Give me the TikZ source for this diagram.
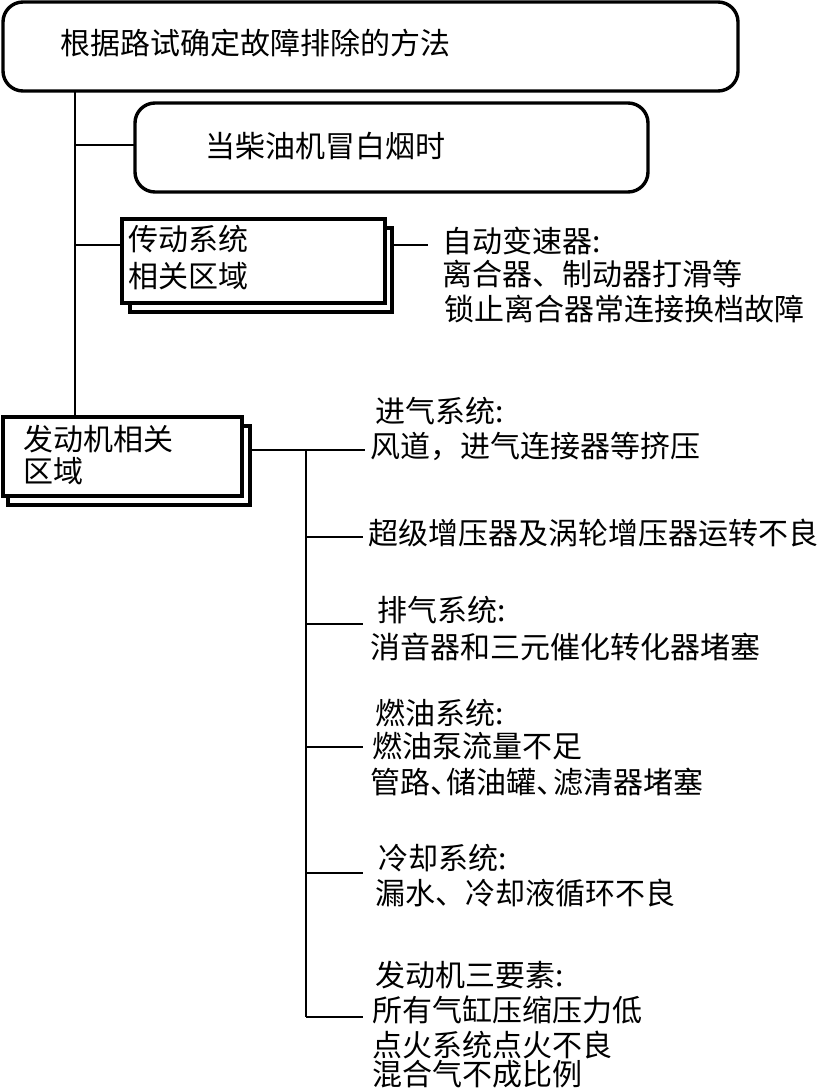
\documentclass[tikz,border=0pt]{standalone}
\usepackage{fontspec}
\newfontfamily\song{Noto Sans CJK SC}
\newcommand{\dunhao}{、\kern-0.45em}
\begin{document}
\begin{tikzpicture}[x=1pt,y=-1pt,
  lbl/.style={anchor=west, inner sep=0pt, font=\song\fontsize{30}{30}\selectfont, text height=1.6em, text depth=0.1em},
  rbox/.style={draw, line width=3.4pt, rounded corners=20pt},
  sbox/.style={draw, line width=3.4pt, fill=white},
  conn/.style={line width=2pt}]
\useasboundingbox (0,0) rectangle (819,1092);
% top boxes
\draw[rbox] (3,2) rectangle (738,91);
\coordinate (topS) at (75,91);
\node[lbl] (toptext) at (60,47) {根据路试确定故障排除的方法};
\draw[rbox] (135,103) rectangle (648,192);
\coordinate (secW) at (135,145);
\node[lbl] (sectext) at (205,150) {当柴油机冒白烟时};
% transmission box
\draw[sbox] (130,228) rectangle (392,312);
\draw[sbox] (122,219) rectangle (385,303);
\coordinate (transW) at (122,245);
\coordinate (transE) at (392,245);
\node[lbl] (trans1) at (128,243) {传动系统};
\node[lbl] (trans2) at (128,280) {相关区域};
\coordinate (transR) at (428,245);
\node[lbl] (at1) at (442,245) {自动变速器:};
\node[lbl] (at2) at (442,278) {离合器、制动器打滑等};
\node[lbl] (at3) at (444,313) {锁止离合器常连接换档故障};
% engine box
\draw[sbox] (8,426) rectangle (250,505);
\draw[sbox] (3,417) rectangle (242,496);
\coordinate (engN) at (75,417);
\coordinate (engE) at (250,450);
\node[lbl] (eng1) at (23,443) {发动机相关};
\node[lbl] (eng2) at (23,475) {区域};
% trunk connectors
\coordinate (trunk) at (75,0);
\draw[conn] (topS) -- (engN);
\draw[conn] (secW -| trunk) -- (secW);
\draw[conn] (transW -| trunk) -- (transW);
\draw[conn] (transE) -- (transR);
% engine branches
\coordinate (b0) at (365,450);
\coordinate (bus) at (306,0);
\coordinate (b1) at (363,537);
\coordinate (b2) at (363,624);
\coordinate (b3) at (363,747);
\coordinate (b4) at (363,873);
\coordinate (b5) at (363,1017);
\draw[conn] (engE) -- (b0);
\draw[conn] (engE -| bus) -- (b5 -| bus);
\foreach \b in {b1,b2,b3,b4,b5} \draw[conn] (\b -| bus) -- (\b);
\node[lbl] (e1a) at (375,415) {进气系统:};
\node[lbl] (e1b) at (370,450) {风道，进气连接器等挤压};
\node[lbl] (e2) at (368,537) {超级增压器及涡轮增压器运转不良};
\node[lbl] (e3a) at (377,614) {排气系统:};
\node[lbl] (e3b) at (370,651) {消音器和三元催化转化器堵塞};
\node[lbl] (e4a) at (375,717) {燃油系统:};
\node[lbl] (e4b) at (372,750) {燃油泵流量不足};
\node[lbl] (e4c) at (370,786) {管路\dunhao 储油罐\dunhao 滤清器堵塞};
\node[lbl] (e5a) at (378,862) {冷却系统:};
\node[lbl] (e5b) at (375,897) {漏水、冷却液循环不良};
\node[lbl] (e6a) at (375,979) {发动机三要素:};
\node[lbl] (e6b) at (372,1014) {所有气缸压缩压力低};
\node[lbl] (e6c) at (372,1049) {点火系统点火不良};
\node[lbl] (e6d) at (372,1078) {混合气不成比例};
\end{tikzpicture}
\end{document}
